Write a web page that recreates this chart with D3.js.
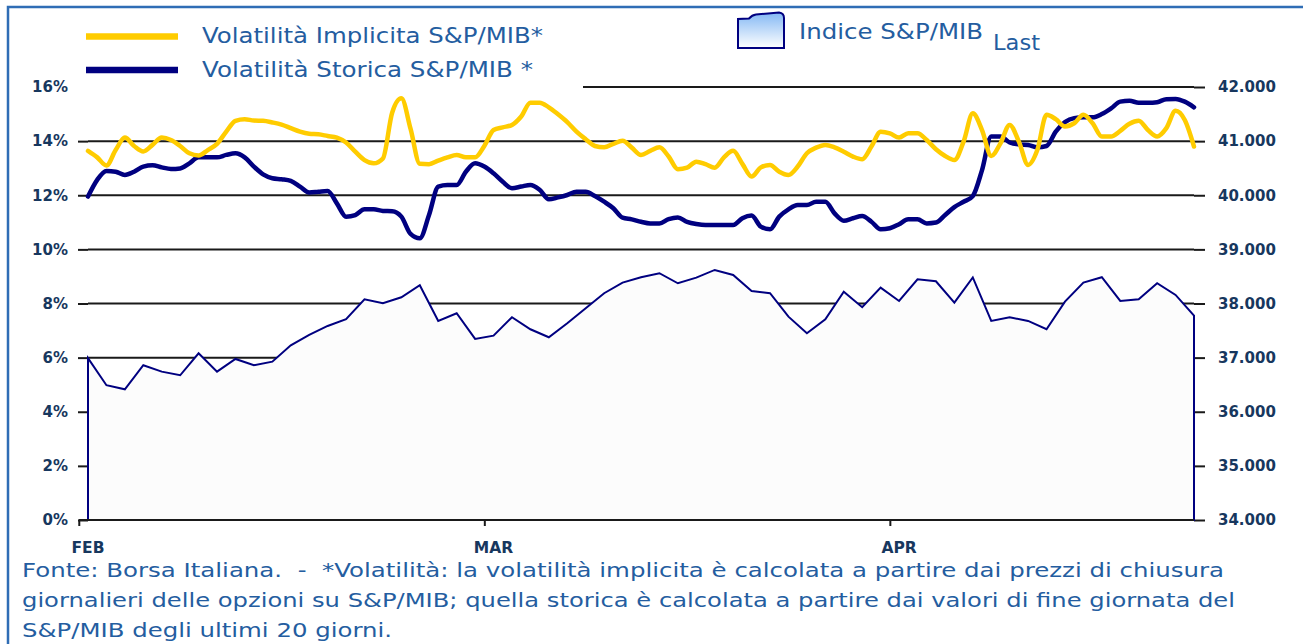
<!DOCTYPE html>
<html>
<head>
<meta charset="utf-8">
<script src="https://cdn.jsdelivr.net/npm/d3@7"></script>
<style>
body { margin: 0; background: #fff; }
svg { display: block; }
</style>
</head>
<body>
<svg width="1303" height="644"></svg>
<script>
// month labels and the trading-day index where each month starts
var months = ["FEB", "MAR", "APR"];
var monthStart = [0, 22, 44];

// S&P/MIB index (Last), one value per trading day
var indexValues = [
    36990, 36490, 36415, 36859, 36741, 36674, 37081, 36741, 36975, 36859,
    36925, 37228, 37419, 37585, 37709, 38079, 38005, 38115, 38337, 37678,
    37820, 37345, 37406, 37746, 37524, 37376, 37635, 37912, 38190, 38385,
    38485, 38559, 38374, 38478, 38620, 38528, 38232, 38190, 37757, 37450,
    37709, 38219, 37931, 38293, 38047, 38448, 38411, 38016, 38481, 37678,
    37746, 37678, 37524, 38034, 38385, 38485, 38047, 38079, 38374, 38158,
    37775
];

// volatilities (%), two readings per trading day
var implied = [
    13.64, 13.40, 13.10, 13.67, 14.13, 13.82, 13.62, 13.86, 14.13, 14.04,
    13.82, 13.55, 13.47, 13.67, 13.90, 14.35, 14.75, 14.81, 14.76, 14.75,
    14.69, 14.61, 14.48, 14.35, 14.27, 14.25, 14.19, 14.13, 13.95, 13.61,
    13.30, 13.18, 13.36, 15.05, 15.58, 14.45, 13.16, 13.15, 13.28, 13.40,
    13.49, 13.40, 13.40, 13.82, 14.41, 14.51, 14.60, 14.91, 15.42, 15.42,
    15.25, 14.99, 14.70, 14.35, 14.07, 13.82, 13.77, 13.90, 14.01, 13.76,
    13.49, 13.64, 13.77, 13.43, 12.96, 13.02, 13.24, 13.15, 13.02, 13.40,
    13.64, 13.16, 12.69, 13.03, 13.12, 12.87, 12.75, 13.06, 13.55, 13.76,
    13.86, 13.77, 13.61, 13.43, 13.33, 13.80, 14.35, 14.29, 14.13, 14.29,
    14.29, 14.04, 13.70, 13.45, 13.30, 13.98, 15.03, 14.41, 13.45, 13.92,
    14.60, 13.98, 13.12, 13.67, 14.97, 14.81, 14.54, 14.66, 14.97, 14.66,
    14.17, 14.17, 14.38, 14.64, 14.75, 14.41, 14.17, 14.48, 15.12, 14.78,
    13.80
];
var historic = [
    11.95, 12.57, 12.90, 12.87, 12.75, 12.87, 13.06, 13.11, 13.03, 12.97,
    12.99, 13.18, 13.40, 13.40, 13.40, 13.49, 13.55, 13.40, 13.06, 12.77,
    12.63, 12.59, 12.53, 12.32, 12.10, 12.13, 12.16, 11.70, 11.21, 11.27,
    11.48, 11.48, 11.42, 11.41, 11.21, 10.57, 10.41, 11.27, 12.32, 12.38,
    12.38, 12.87, 13.18, 13.06, 12.81, 12.50, 12.26, 12.32, 12.38, 12.20,
    11.85, 11.92, 12.01, 12.13, 12.13, 11.97, 11.76, 11.52, 11.17, 11.11,
    11.02, 10.96, 10.96, 11.12, 11.18, 11.02, 10.94, 10.90, 10.90, 10.90,
    10.90, 11.15, 11.25, 10.84, 10.74, 11.21, 11.48, 11.64, 11.64, 11.76,
    11.76, 11.33, 11.06, 11.15, 11.23, 11.02, 10.74, 10.78, 10.93, 11.11,
    11.11, 10.96, 10.99, 11.27, 11.56, 11.76, 11.97, 12.93, 14.17, 14.17,
    13.95, 13.88, 13.86, 13.77, 13.82, 14.35, 14.70, 14.85, 14.88, 14.88,
    15.00, 15.21, 15.46, 15.49, 15.42, 15.42, 15.44, 15.55, 15.56, 15.46,
    15.25
];

var leftTicks = [0, 2, 4, 6, 8, 10, 12, 14, 16];
var rightTicks = [34000, 35000, 36000, 37000, 38000, 39000, 40000, 41000, 42000];

var footnote = [
    "Fonte: Borsa Italiana.  -  *Volatilità: la volatilità implicita è calcolata a partire dai prezzi di chiusura",
    "giornalieri delle opzioni su S&P/MIB; quella storica è calcolata a partire dai valori di fine giornata del",
    "S&P/MIB degli ultimi 20 giorni."
];

var svg = d3.select("svg");
var axisColor = "#17375e", textColor = "#245da0";
var font = "'DejaVu Sans', Verdana, sans-serif";

var x = d3.scaleLinear().domain([0, indexValues.length - 1]).range([88, 1194]);
var yL = d3.scaleLinear().domain([0, 16]).range([520, 87]);
var yR = d3.scaleLinear().domain([34000, 42000]).range([520, 87]);

// frame
svg.append("path")
    .attr("d", "M8,650 L8,7 L1310,7")
    .attr("fill", "none")
    .attr("stroke", "#2f6db5")
    .attr("stroke-width", 2.5);

// gridlines
svg.append("g").selectAll("line")
    .data(leftTicks.slice(1))
    .enter().append("line")
    .attr("x1", x(0)).attr("x2", x(indexValues.length - 1))
    .attr("y1", function(d) { return yL(d); })
    .attr("y2", function(d) { return yL(d); })
    .attr("stroke", "#1a1a1a")
    .attr("stroke-width", 2);

// axes
var fmtIt = d3.formatLocale({decimal: ",", thousands: ".", grouping: [3], currency: ["", "€"]}).format(",.0f");

var gL = svg.append("g")
    .attr("transform", "translate(" + x(0) + ",0)")
    .call(d3.axisLeft(yL).tickValues(leftTicks).tickSize(10).tickPadding(10)
        .tickFormat(function(d) { return d + "%"; }));
var gR = svg.append("g")
    .attr("transform", "translate(" + x(indexValues.length - 1) + ",0)")
    .call(d3.axisRight(yR).tickValues(rightTicks).tickSize(11).tickPadding(13).tickFormat(fmtIt));
[gL, gR].forEach(function(g) {
    g.select(".domain").remove();
    g.selectAll(".tick line").attr("stroke", "#1a1a1a").attr("stroke-width", 2);
    g.selectAll(".tick text")
        .attr("fill", axisColor)
        .style("font-family", font)
        .style("font-weight", "bold")
        .style("font-size", "15px");
});

// index area
var area = d3.area()
    .x(function(d, i) { return x(i); })
    .y0(yR(34000))
    .y1(function(d) { return yR(d); });
svg.append("path")
    .datum(indexValues)
    .attr("d", area)
    .attr("fill", "#fcfcfc")
    .attr("stroke", "#000080")
    .attr("stroke-width", 2)
    .attr("stroke-linejoin", "miter");

// x axis
var gX = svg.append("g")
    .attr("transform", "translate(0," + yL(0) + ")")
    .call(d3.axisBottom(x)
        .tickValues(monthStart.map(function(s) { return s - 0.5; }))
        .tickSize(6).tickFormat(""));
gX.select(".domain").remove();
gX.selectAll(".tick line").attr("stroke", "#1a1a1a").attr("stroke-width", 2);
gX.append("line")
    .attr("x1", x(-0.5)).attr("x2", x(indexValues.length - 1))
    .attr("stroke", "#1a1a1a").attr("stroke-width", 2.2);

svg.append("g").selectAll("text")
    .data(months)
    .enter().append("text")
    .attr("x", function(d, i) { return x(monthStart[i]); })
    .attr("y", 553)
    .attr("text-anchor", "middle")
    .attr("fill", axisColor)
    .style("font-family", font)
    .style("font-weight", "bold")
    .style("font-size", "15.5px")
    .text(function(d) { return d; });

// volatility lines
var volLine = d3.line()
    .x(function(d, i) { return x(i / 2); })
    .y(function(d) { return yL(d); })
    .curve(d3.curveMonotoneX);

svg.append("path")
    .datum(historic)
    .attr("d", volLine)
    .attr("fill", "none")
    .attr("stroke", "#000080")
    .attr("stroke-width", 4.5)
    .attr("stroke-linejoin", "round")
    .attr("stroke-linecap", "round");
svg.append("path")
    .datum(implied)
    .attr("d", volLine)
    .attr("fill", "none")
    .attr("stroke", "#ffcc00")
    .attr("stroke-width", 4.5)
    .attr("stroke-linejoin", "round")
    .attr("stroke-linecap", "round");

// legend
svg.append("rect")
    .attr("x", 76).attr("y", 12).attr("width", 507).attr("height", 82)
    .attr("fill", "#fff");

var legend = [
    {name: "Volatilità Implicita S&P/MIB*", color: "#ffcc00", y: 36.5, len: 341},
    {name: "Volatilità Storica S&P/MIB *", color: "#000080", y: 70, len: 331}
];
legend.forEach(function(d) {
    svg.append("line")
        .attr("x1", 86).attr("x2", 178)
        .attr("y1", d.y).attr("y2", d.y)
        .attr("stroke", d.color)
        .attr("stroke-width", 6.5);
    svg.append("text")
        .attr("x", 202).attr("y", d.y + 6.5)
        .attr("textLength", d.len)
        .attr("lengthAdjust", "spacingAndGlyphs")
        .attr("fill", textColor)
        .style("font-family", font)
        .style("font-size", "22px")
        .text(d.name);
});

var grad = svg.append("defs").append("linearGradient")
    .attr("id", "icon")
    .attr("x1", 0).attr("y1", 0).attr("x2", 0).attr("y2", 1);
grad.append("stop").attr("offset", "0%").attr("stop-color", "#84b8f4");
grad.append("stop").attr("offset", "100%").attr("stop-color", "#ffffff");

svg.append("path")
    .attr("d", "M738,48 L738,19 L749,18.5 Q752,15 756,14.5 L768,13.5 L779,12.5 Q784,13 784,18 L784,48 Z")
    .attr("fill", "url(#icon)")
    .attr("stroke", "#000080")
    .attr("stroke-width", 2);

svg.append("text")
    .attr("x", 799).attr("y", 39)
    .attr("textLength", 184)
    .attr("lengthAdjust", "spacingAndGlyphs")
    .attr("fill", textColor)
    .style("font-family", font)
    .style("font-size", "22px")
    .text("Indice S&P/MIB");
svg.append("text")
    .attr("x", 993).attr("y", 50)
    .attr("textLength", 47)
    .attr("lengthAdjust", "spacingAndGlyphs")
    .attr("fill", textColor)
    .style("font-family", font)
    .style("font-size", "22px")
    .text("Last");

// footnote
var footLen = [1202, 1213, 370];
svg.append("g").selectAll("text")
    .data(footnote)
    .enter().append("text")
    .attr("x", 22)
    .attr("y", function(d, i) { return 577 + i * 30; })
    .attr("textLength", function(d, i) { return footLen[i]; })
    .attr("lengthAdjust", "spacingAndGlyphs")
    .attr("fill", textColor)
    .style("font-family", font)
    .style("font-size", "20px")
    .style("white-space", "pre")
    .text(function(d) { return d; });
</script>
</body>
</html>
